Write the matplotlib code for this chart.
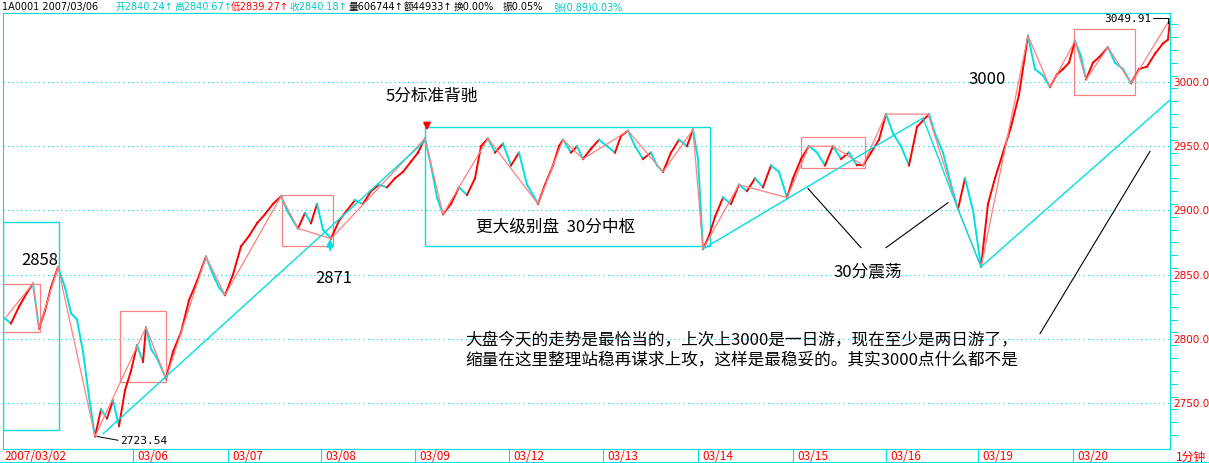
import matplotlib
matplotlib.use('Agg')
import matplotlib.pyplot as plt
from matplotlib.patches import Rectangle

plt.rcParams['font.family'] = ['Noto Sans CJK SC', 'DejaVu Sans']

# minute-chart close prices (x = bar position)
px = [0, 8, 16, 24, 30, 36, 42, 48, 55, 62, 68, 74, 80, 86, 92, 98, 104, 110, 116, 122, 128, 134, 140, 143, 148, 154, 158, 163,
      170, 178, 186, 194, 203, 210, 216, 222, 230, 238, 246, 254, 262, 270, 278, 284, 290, 295, 302, 308, 314, 320, 328, 336,
      344, 352, 360, 368, 376, 384, 392, 400, 408, 415, 422, 428, 434, 440, 448, 456, 464, 472, 478, 485, 492, 500, 508, 516,
      524, 530, 535, 542, 550, 556, 560, 568, 574, 580, 588, 596, 604, 612, 618, 625, 632, 640, 648, 654, 660, 668, 676, 684,
      690, 695, 700, 706, 712, 720, 728, 736, 744, 752, 760, 768, 776, 784, 790, 798, 806, 814, 822, 830, 838, 846, 854, 860,
      868, 876, 883, 890, 898, 906, 914, 920, 926, 932, 940, 948, 955, 962, 970, 978, 985, 992, 1000, 1008, 1016, 1025, 1032,
      1040, 1047, 1054, 1060, 1066, 1072, 1078, 1083, 1090, 1097, 1105, 1112, 1120, 1128, 1136, 1144, 1152, 1160, 1165, 1167]
price = [2817, 2812, 2825, 2836, 2843, 2808, 2822, 2840, 2856, 2840, 2820, 2815, 2790, 2755, 2724, 2745, 2738, 2752, 2732, 2760,
         2775, 2795, 2782, 2809, 2792, 2785, 2778, 2769, 2790, 2805, 2830, 2845, 2864, 2850, 2840, 2834, 2850, 2872, 2880, 2890,
         2897, 2905, 2911, 2900, 2892, 2886, 2898, 2890, 2905, 2885, 2878, 2892, 2900, 2908, 2905, 2915, 2920, 2918, 2925, 2930,
         2938, 2945, 2956, 2935, 2910, 2897, 2905, 2918, 2912, 2925, 2950, 2956, 2945, 2952, 2935, 2945, 2920, 2912, 2905, 2920,
         2935, 2950, 2955, 2945, 2950, 2940, 2948, 2955, 2950, 2945, 2958, 2962, 2950, 2940, 2945, 2935, 2930, 2945, 2955, 2950,
         2963, 2940, 2870, 2880, 2895, 2910, 2905, 2920, 2915, 2925, 2918, 2935, 2930, 2910, 2925, 2940, 2950, 2945, 2935, 2950,
         2940, 2945, 2935, 2935, 2945, 2955, 2975, 2960, 2950, 2935, 2965, 2970, 2975, 2960, 2945, 2920, 2901, 2925, 2900, 2856,
         2905, 2925, 2945, 2965, 2990, 3036, 3010, 3005, 2996, 3006, 3010, 3015, 3032, 3020, 3002, 3015, 3020, 3027, 3015, 3010,
         2999, 3010, 3012, 3022, 3030, 3033, 3049]

# pink zigzag pivots
zz_x = [3, 30, 36, 55, 92, 143, 163, 203, 222, 278, 295, 328, 422, 440, 485, 535, 560, 580, 625, 660, 690, 700, 736, 784,
        806, 830, 860, 883, 925, 955, 978, 1025, 1047, 1072, 1083, 1105, 1128, 1167]
zz_y = [2817, 2843, 2808, 2856, 2724, 2809, 2769, 2864, 2834, 2911, 2886, 2878, 2956, 2897, 2956, 2905, 2955, 2940, 2962,
        2930, 2963, 2870, 2920, 2910, 2950, 2950, 2935, 2975, 2975, 2901, 2856, 3036, 2996, 3032, 3002, 3027, 2999, 3049]

# cyan trend lines (x0, y0, x1, y1)
cyan_lines = [(100, 2726, 422, 2954), (700, 2870, 920, 2972), (920, 2972, 955, 2901), (955, 2901, 978, 2856),
              (978, 2856, 1170, 2988)]
# boxes (x0, x1, y0, y1)
pink_boxes = [(0, 37, 2805, 2843), (117, 163, 2766, 2822), (279, 330, 2872, 2912), (798, 862, 2933, 2957), (1071, 1132, 2990, 3041)]
cyan_boxes = [(0, 56, 2729, 2891), (422, 707, 2872, 2965)]
# black pointer lines
black_lines = [(805, 2917, 858, 2871), (883, 2871, 945, 2906), (1037, 2804, 1147, 2946)]

y_ticks = [2750, 2800, 2850, 2900, 2950, 3000]
day_pos = [3, 130, 225, 318, 412, 506, 600, 695, 790, 883, 975, 1070]
day_labels = ['2007/03/02', '03/06', '03/07', '03/08', '03/09', '03/12', '03/13', '03/14', '03/15', '03/16', '03/19', '03/20']

YMIN, YMAX = 2714.2, 3053.7
W, H = 1209, 464
fig = plt.figure(figsize=(W / 100, H / 100), dpi=100)
ax = fig.add_axes([3 / W, 1 - 450 / H, 1167 / W, 436 / H])
ax.set_xlim(0, 1167)
ax.set_ylim(YMIN, YMAX)
for s in ax.spines.values():
    s.set_color('#00e0e0')
ax.set_xticks([])
ax.set_yticks([])

for v in y_ticks:
    ax.axhline(v, color='#00d8d8', lw=0.8, ls=(0, (1, 3)))
    ax.text(1.003, (v - YMIN) / (YMAX - YMIN), '%.1f' % v, transform=ax.transAxes,
            color='red', fontsize=7.5, va='center', ha='left', family='DejaVu Sans', clip_on=False)
for v in range(2725, 3050, 10):
    ax.plot([1.0, 1.006], [(v - YMIN) / (YMAX - YMIN)] * 2, transform=ax.transAxes, color='#00d8d8', lw=0.7, clip_on=False)

for i in range(1, len(px)):
    c = 'red' if price[i] >= price[i - 1] else '#00e0e0'
    ax.plot([px[i - 1], px[i]], [price[i - 1], price[i]], color=c, lw=1.4)

ax.plot(zz_x, zz_y, color='#ff8080', lw=0.9)
for x0, y0, x1, y1 in cyan_lines:
    ax.plot([x0, x1], [y0, y1], color='#00e0e0', lw=1.0)
for x0, x1, y0, y1 in pink_boxes:
    ax.add_patch(Rectangle((x0, y0), x1 - x0, y1 - y0, fill=False, ec='#ff8080', lw=0.9))
for x0, x1, y0, y1 in cyan_boxes:
    ax.add_patch(Rectangle((x0, y0), x1 - x0, y1 - y0, fill=False, ec='#00e0e0', lw=1.0))
for x0, y0, x1, y1 in black_lines:
    ax.plot([x0, x1], [y0, y1], color='black', lw=0.8)

ax.text(18, 2862, '2858', fontsize=12, ha='left', va='center')
ax.text(312, 2848, '2871', fontsize=12, ha='left', va='center')
ax.annotate('', xy=(327, 2880), xytext=(327, 2867), arrowprops=dict(arrowstyle='-|>', color='#00e0e0', lw=1.5))
ax.annotate('', xy=(424, 2960), xytext=(424, 2970), arrowprops=dict(arrowstyle='-|>', color='red', lw=1.5))
ax.text(383, 2990, '5分标准背驰', fontsize=12, ha='left', va='center')
ax.text(473, 2887, '更大级别盘  30分中枢', fontsize=12, ha='left', va='center')
ax.text(830, 2853, '30分震荡', fontsize=12, ha='left', va='center')
ax.text(965, 3003, '3000', fontsize=12, ha='left', va='center')
ax.text(462, 2792, '大盘今天的走势是最恰当的，上次上3000是一日游，现在至少是两日游了，\n缩量在这里整理站稳再谋求上攻，这样是最稳妥的。其实3000点什么都不是',
        fontsize=12, ha='left', va='center', linespacing=1.15)
ax.plot([94, 115], [2724, 2721], color='black', lw=0.7)
ax.text(117, 2721, '2723.54', fontsize=8, ha='left', va='center', family='DejaVu Sans Mono')
ax.plot([1150, 1165, 1165], [3049.5, 3049.5, 3046], color='black', lw=0.7)
ax.text(1148, 3049.5, '3049.91', fontsize=8, ha='right', va='center', family='DejaVu Sans Mono')

# date axis
for p, lab in zip(day_pos, day_labels):
    if p > 5:
        fig.add_artist(plt.Line2D([(p + 3) / W] * 2, [1 - 463 / H, 1 - 450 / H], color='#00e0e0', lw=0.8))
        fig.text((p + 7) / W, 1 - 457 / H, lab, color='red', fontsize=8.5, va='center', ha='left')
    else:
        fig.text(4 / W, 1 - 457 / H, lab, color='red', fontsize=8.5, va='center', ha='left')
fig.add_artist(plt.Line2D([0, 1], [1 - 463 / H] * 2, color='#00e0e0', lw=0.8))
fig.text(1176 / W, 1 - 457 / H, '1分钟', color='red', fontsize=8.5, va='center', ha='left')

# header
hdr_x = [2, 116, 174, 231, 289, 349, 404, 454, 503, 553]
hdr_t = ['1A0001 2007/03/06', '开2840.24↑', '高2840.67↑', '低2839.27↑', '收2840.18↑', '量606744↑', '额44933↑',
         '换0.00%', '振0.05%', '张(0.89)0.03%']
hdr_c = ['black', '#00c8c8', '#00c8c8', 'red', '#00c8c8', 'black', 'black', 'black', 'black', '#00c8c8']
for x, t, c in zip(hdr_x, hdr_t, hdr_c):
    fig.text(x / W, 1 - 7 / H, t, color=c, fontsize=7, va='center', ha='left',
             family=['DejaVu Sans', 'Noto Sans CJK SC'])

fig.savefig('out.png', dpi=100)
